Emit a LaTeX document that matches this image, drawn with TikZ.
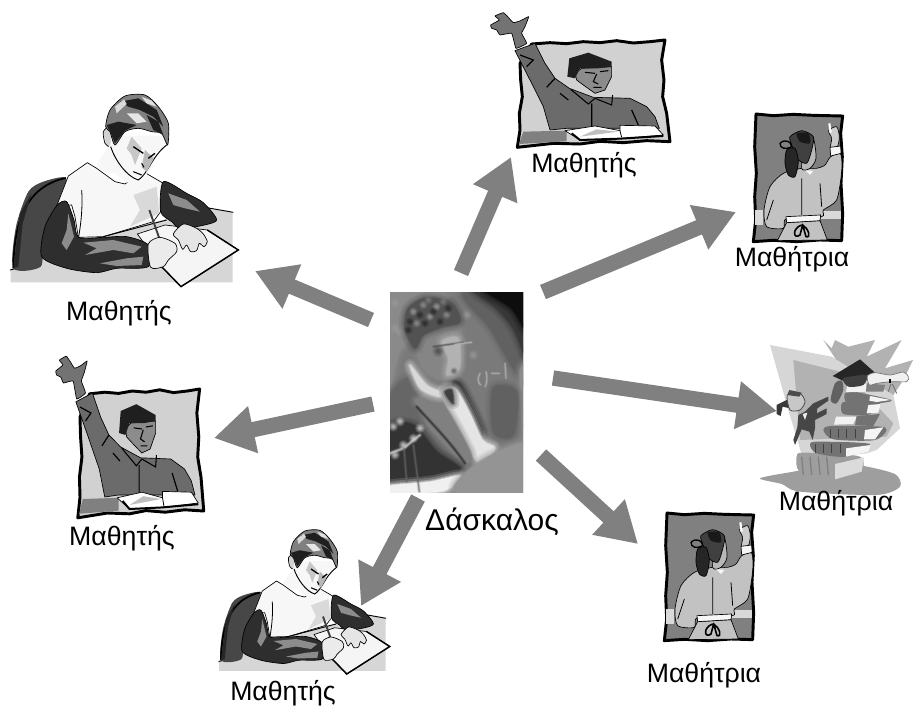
\documentclass[tikz,border=0pt]{standalone}
\usepackage{fontspec}
\setmainfont{Liberation Sans}
\usetikzlibrary{arrows.meta}
\definecolor{arrowgray}{gray}{0.5}
\newcommand{\blob}[2]{\path[#1] plot[smooth cycle,tension=.45] coordinates{#2};}
\newcommand{\poly}[2]{\path[#1] plot[sharp cycle] coordinates{#2};}
\newcommand{\soft}[2]{%
  \foreach \w/\o in {9/.15,6/.22,3/.35,1.2/.55}{\path[draw=#1,line width=\w pt,opacity=\o,line join=round] plot[smooth cycle,tension=.5] coordinates{#2};}%
  \path[fill=#1] plot[smooth cycle,tension=.5] coordinates{#2};}
\newcommand{\softdot}[3]{%
  \foreach \f/\o in {1.7/.14,1.35/.2,1/.3,.65/.45}{\fill[#1,opacity=\o] #2 circle ({#3*\f});}}
\newcommand{\softline}[3]{%
  \foreach \w/\o in {4.5/.14,3/.22,1.8/.35,.9/.5}{\draw[#1,line width=#2*\w pt,opacity=\o,line cap=round,line join=round] #3;}}
\tikzset{
  lbl/.style={inner sep=0pt,font=\fontsize{20}{24}\selectfont},
  biglbl/.style={inner sep=0pt,font=\fontsize{22.5}{26}\selectfont},
  flow/.style={draw=arrowgray,line width=11.5pt,-{Triangle[length=30pt,width=34pt,fill=arrowgray]}},
  ink/.style={draw=black,line width=.5pt,line join=round},
  thick ink/.style={draw=black,line width=2.2pt,line join=round}
}
% ---------- boy writing
\newcommand{\boyart}[3]{\begin{scope}[shift={(#1,#2)},scale=#3]
 \poly{fill=black!16}{(32,572)(300,470)(620,385)(698,397)(698,607)(32,607)}
 \draw[black,line width=.7pt] (620,383)--(700,397);
 \draw[black,line width=.7pt] (30,570)--(120,548);
 % chair
 \blob{fill=black!72}{(40,565)(48,440)(85,335)(130,305)(198,294)(175,370)(130,480)(122,560)}
 \draw[black,line width=1.3pt] (40,565) .. controls (42,440) and (70,320) .. (198,294);
 \poly{fill=black!85}{(40,565)(60,400)(95,340)(68,430)(55,560)}
 % torso
 \poly{fill=black!3,ink}{(205,288)(262,248)(290,265)(345,305)(375,312)(430,275)(490,310)(482,395)(460,425)(310,470)(235,472)(225,410)(215,375)(170,378)}
 \poly{fill=black!15}{(400,345)(470,320)(478,400)(390,440)(420,390)}
 \draw[black,line width=.6pt] (245,330) .. controls (248,370) and (245,420) .. (236,470);
 \draw[black,line width=.7pt] (310,470)--(500,420);
 % paper
 \poly{fill=black!4,ink}{(412,462)(495,435)(622,450)(715,510)(543,620)(483,558)}
 \draw[black,line width=1.1pt] (622,450)--(715,510)--(543,620)--(483,558);
 % pencil
 \draw[black!75,line width=1.4pt] (448,390)--(478,475);
 % left sleeve
 \blob{fill=black!82,ink}{(172,375)(200,365)(222,420)(236,472)(310,472)(380,470)(445,495)(445,560)(350,565)(290,578)(200,565)(125,530)(135,440)}
 \poly{fill=black!45}{(205,400)(222,470)(200,510)(185,490)(200,450)}
 \poly{fill=black!45}{(250,488)(340,480)(425,500)(400,520)(340,510)(255,525)(290,505)}
 \poly{fill=black!45}{(300,550)(380,535)(430,530)(425,555)(350,558)}
 % right sleeve
 \blob{fill=black!82,ink}{(490,305)(560,340)(610,368)(650,420)(600,438)(540,445)(515,425)(482,395)}
 \poly{fill=black!45}{(505,340)(560,360)(600,395)(555,385)(520,375)}
 % hands
 \blob{fill=black!10,ink}{(520,462)(550,432)(590,445)(610,462)(622,485)(612,500)(598,490)(590,512)(572,515)(560,495)(548,508)(535,480)}
 \blob{fill=black!8,ink}{(445,492)(480,472)(525,490)(530,515)(505,540)(490,560)(452,562)}
 % ear, neck, face
 \blob{fill=black!18,ink}{(310,155)(330,140)(338,180)(330,200)(315,190)}
 \blob{fill=black!3}{(290,255)(330,195)(345,170)(500,170)(500,195)(470,215)(450,270)(415,300)(380,308)(345,280)(315,275)}
 \draw[black,line width=.7pt] (332,200) .. controls (345,240) and (380,290) .. (415,300) .. controls (445,280) and (455,230) .. (500,195);
 \poly{fill=black!22}{(395,170)(425,205)(405,255)(395,225)(380,205)}
 \poly{fill=black!28}{(435,210)(462,235)(440,275)(425,262)}
 \draw[black,line width=1pt] (400,200)--(430,220) (445,235)--(465,220);
 \draw[black,line width=.8pt] (400,275)--(425,285) (425,250)--(432,262);
 % hair
 \blob{fill=black!50,ink}{(317,140)(330,90)(375,48)(435,45)(475,80)(505,130)(503,195)(485,160)(455,155)(415,145)(375,155)(345,195)(330,155)}
 \poly{fill=black!88}{(360,65)(415,55)(470,90)(490,140)(460,110)(420,90)(385,80)}
 \poly{fill=black!88}{(440,105)(475,125)(490,165)(460,150)}
 \poly{fill=black!88}{(320,135)(355,125)(410,135)(375,152)(345,190)(332,160)}
 \poly{fill=black!10}{(380,100)(415,100)(440,125)(410,130)}
 \poly{fill=black!15}{(345,80)(372,58)(380,72)(350,100)}
 \poly{fill=black!12}{(425,50)(455,62)(470,80)(440,70)}
\end{scope}}
% ---------- student with raised hand
\newcommand{\handart}[4]{\begin{scope}[shift={(#1,#2)},xscale=#3,yscale=#4]
 \poly{fill=black!18,thick ink}{(155,132)(210,128)(260,131)(310,125)(360,128)(410,122)(460,129)(510,125)(555,120)(545,180)(552,240)(548,290)(560,340)(570,425)(500,422)(430,428)(360,424)(300,432)(220,430)(112,442)(120,390)(118,340)(127,290)(122,240)(120,190)}
 \poly{fill=black!50}{(130,395)(260,392)(260,424)(117,432)}
 \poly{fill=black!58,ink}{(105,152)(165,130)(195,190)(225,235)(268,265)(340,292)(450,295)(500,320)(525,350)(538,385)(400,385)(260,385)(210,390)(190,320)(150,240)}
 \path[fill=black!55,ink] plot[smooth cycle,tension=.2] coordinates{(32,75)(58,60)(45,48)(70,38)(85,52)(100,68)(122,62)(146,50)(135,80)(125,100)(140,130)(108,145)(95,100)(60,105)(50,90)(35,85)};
 \poly{fill=black!45,ink}{(285,220)(305,205)(395,200)(395,230)(375,270)(345,280)(310,255)(290,240)}
 \poly{fill=black!88}{(268,175)(325,158)(395,185)(395,200)(355,205)(300,205)(285,235)(262,230)}
 \draw[black,line width=.8pt] (315,217)--(345,220) (360,215)--(385,212) (350,222)--(340,245)--(355,252) (340,262)--(365,262);
 \draw[black,line width=.8pt] (272,268)--(325,312)--(345,295)--(395,315)--(398,285);
 \draw[black,line width=.9pt] (120,165)--(160,180)--(140,200) (225,235)--(200,262) (240,280)--(265,300) (335,310)--(335,380) (455,330)--(475,375);
 \poly{fill=white,ink}{(255,392)(345,378)(420,392)(420,376)(525,378)(550,405)(420,416)(300,420)}
 \poly{fill=black!25}{(350,388)(415,395)(300,410)}
 \draw[black,line width=.6pt] (420,392)--(425,412);
 \draw[black,line width=1.5pt] (275,400)--(300,420)--(420,416)--(550,408);
\end{scope}}
% ---------- girl at the board
\newcommand{\girlart}[3]{\begin{scope}[shift={(#1,#2)},xscale=#3,yscale=.3333]
 \poly{fill=black!50,thick ink}{(78,42)(130,47)(190,43)(250,46)(338,48)(332,100)(337,170)(333,250)(338,340)(335,422)(270,420)(200,425)(130,421)(70,425)(77,360)(74,290)(79,220)(74,140)}
 \poly{fill=black!15}{(272,332)(334,332)(334,356)(272,356)}
 \poly{fill=black!15}{(76,330)(100,330)(100,375)(76,375)}
 \blob{fill=black!24,ink}{(215,205)(260,205)(285,195)(302,170)(332,162)(335,215)(320,300)(280,330)(275,350)(170,355)(160,385)(110,380)(102,330)(120,260)(160,220)}
 \poly{fill=black!24,ink}{(170,368)(270,362)(292,420)(142,422)}
 \poly{fill=black!3,ink}{(168,350)(272,345)(270,362)(170,368)}
 \draw[black,line width=1.2pt] (215,375) .. controls (185,385) and (190,420) .. (210,405) -- (218,375) .. controls (235,385) and (245,415) .. (228,410) -- (218,375);
 \poly{fill=black!3}{(225,210)(250,213)(240,225)}
 \draw[black,line width=.6pt] (215,235)--(215,345) (130,300)--(110,360) (270,250)--(275,320);
 \blob{fill=black!28,ink}{(225,120)(250,115)(258,175)(240,205)(215,205)}
 \blob{fill=black!75,ink}{(180,110)(215,92)(250,110)(245,150)(230,190)(200,175)(185,135)}
 \blob{fill=black!85,ink}{(170,150)(195,145)(205,185)(195,230)(175,225)(165,190)}
 \draw[black,line width=1pt] (150,130) .. controls (165,115) and (185,125) .. (185,140) .. controls (165,150) and (150,145) .. (150,130);
 \blob{fill=black!90}{(200,100)(235,100)(240,130)(210,125)}
 \blob{fill=black!20,ink}{(296,92)(320,80)(328,110)(322,140)(302,142)(305,115)}
 \draw[white,line width=1.6pt] (298,70)--(302,98);
 \poly{fill=black!3,ink}{(300,142)(332,138)(333,160)(302,168)}
\end{scope}}
\begin{document}
\begin{tikzpicture}[x=0.75pt,y=-0.75pt]
\useasboundingbox (0,0) rectangle (913,711);
\fill[white] (0,0) rectangle (913,711);
% --- pictures
\boyart{0}{80}{.3333}
\boyart{211}{519}{.25}
\handart{480}{0}{.3333}{.3333}
\handart{47}{341}{.275}{.4}
\girlart{730}{100}{.3333}
\girlart{641}{499}{.3333}
% --- teacher photograph
\begin{scope}
\clip (390,292) rectangle (523,492);
\begin{scope}[shift={(380,285)},scale=.3333]
 \fill[black!52] (0,0) rectangle (450,640);
 \soft{black!46}{(30,20)(200,30)(150,100)(60,200)(30,300)}
 \soft{black!62}{(250,20)(450,10)(450,300)(400,250)(330,130)}
 \soft{black!78}{(280,10)(450,10)(450,230)(400,130)(350,70)}
 \soft{black!95}{(310,10)(450,10)(450,150)(395,70)}
 \soft{black!45}{(420,260)(450,250)(450,500)(425,400)}
 \soft{black!62}{(340,310)(410,320)(400,450)(340,440)}
 \softline{black!28}{.5}{(300,265) .. controls (290,280) and (295,295) .. (302,300) (318,260) .. controls (322,275) and (322,290) .. (316,305) (335,265)--(358,265) (375,235)--(378,280)}
 \foreach \p in {(45,55),(60,140),(45,130),(260,90),(280,210)} {\softdot{black!40}{\p}{10}}
 % jacket
 \soft{black!60}{(30,340)(95,275)(130,320)(210,360)(310,470)(270,540)(240,560)(30,590)}
 \soft{black!82}{(218,295)(245,305)(305,430)(298,450)(270,385)}
 \soft{black!10}{(185,330)(225,310)(270,385)(308,465)(345,490)(300,535)(260,480)}
 \soft{black!50}{(105,345)(170,330)(270,500)(250,530)(150,430)(125,375)}
 \softline{black!85}{.7}{(110,365) .. controls (160,420) and (210,470) .. (255,535)}
 \soft{black!15}{(90,240)(140,300)(190,325)(175,335)(120,310)}
 \soft{black!75}{(195,320)(215,315)(220,355)(205,340)}
 % face
 \soft{black!48}{(105,160)(160,130)(235,120)(248,200)(235,265)(190,285)(140,265)(115,220)}
 \soft{black!30}{(185,170)(235,160)(238,250)(200,270)(205,220)}
 \softdot{black!72}{(175,198)}{11}
 \softdot{black!65}{(222,258)}{7}
 \softline{black!70}{.5}{(160,185) -- (250,172)}
 \softline{black!25}{.5}{(225,178)--(275,172)}
 % hair
 \soft{black!68}{(75,130)(85,70)(140,38)(215,55)(240,110)(190,125)(130,150)(105,190)}
 \foreach \p/\g in {(100,80)/38,(130,60)/42,(170,65)/36,(200,90)/42,(150,95)/38,(110,115)/42,(180,110)/85,(135,115)/85,(90,110)/85,(120,90)/85,(160,80)/85,(205,70)/85,(85,135)/85,(145,45)/50,(190,50)/50}
   {\softdot{black!\g}{\p}{8}}
 % lower left dark
 \soft{black!80}{(30,430)(100,420)(170,500)(240,550)(200,580)(30,590)}
 \foreach \p in {(45,510),(70,480),(100,460),(120,430),(60,410),(40,425)} {\softdot{black!15}{\p}{9}}
 \softline{black!15}{.8}{(30,505)--(70,490)--(120,450)}
 \soft{black!6}{(30,602)(150,590)(240,572)(190,618)(30,625)}
 % bottom right blur
 \soft{black!42}{(225,620)(300,530)(450,475)(450,640)}
 \softline{black!60}{.6}{(72,490)--(80,590) (100,480)--(118,620)}
\end{scope}
\end{scope}
% --- books
\begin{scope}[shift={(760,340)},scale=.3333]
 \poly{fill=black!30}{(190,0)(215,25)(225,0)(265,20)(345,0)(320,50)(425,0)(375,85)(459,60)(430,120)(400,165)(300,170)}
 \poly{fill=black!16}{(30,15)(215,50)(400,165)(420,265)(350,330)(320,340)(130,360)(85,210)}
 \poly{fill=black!30}{(100,60)(260,100)(400,250)(380,290)(120,300)}
 \blob{fill=black!38}{(0,415)(100,395)(250,370)(400,400)(420,440)(350,465)(120,455)(65,432)}
 % stack
 \blob{fill=black!38}{(110,350)(130,338)(300,350)(298,408)(225,420)(140,410)(112,385)}
 \poly{fill=black!14}{(225,372)(312,352)(305,395)(225,418)}
 \foreach \x in {125,150,175,200}{\draw[black!50,line width=1pt] (\x,350)--(\x+5,405);}
 \blob{fill=black!55}{(150,315)(170,305)(330,312)(258,350)(170,340)}
 \poly{fill=black!4}{(258,325)(332,315)(325,335)(258,350)}
 \blob{fill=black!55}{(190,270)(215,258)(375,262)(345,300)(220,298)}
 \poly{fill=black!4}{(315,270)(370,262)(345,298)(312,298)}
 \poly{fill=black!5}{(228,230)(290,230)(280,252)(222,254)}
 \poly{fill=black!55}{(290,228)(360,222)(340,258)(285,256)}
 \blob{fill=black!55}{(245,190)(265,185)(360,190)(325,224)(250,222)}
 \poly{fill=black!4}{(325,195)(362,192)(355,218)(320,220)}
 \blob{fill=black!55}{(255,160)(280,155)(395,180)(350,190)(262,188)}
 \poly{fill=black!4}{(330,168)(392,180)(350,186)(328,182)}
 \poly{fill=black!5}{(262,135)(320,132)(318,155)(258,157)}
 \poly{fill=black!50}{(320,130)(375,135)(370,155)(318,155)}
 \foreach \x in {165,190,215,240}{\draw[black!75,line width=.7pt] (\x,312)--(\x,340);\draw[black!75,line width=.7pt] (\x+45,268)--(\x+45,295);}
 % cap
 \poly{fill=black!85}{(218,108)(300,58)(345,98)(262,128)}
 \blob{fill=black!75}{(250,115)(320,105)(310,135)(265,140)}
 \blob{fill=black!62}{(225,130)(245,122)(250,150)(230,190)(212,180)}
 % diploma
 \blob{fill=black!6,draw=black!55,line width=.5pt}{(322,108)(345,98)(390,105)(430,96)(445,110)(440,125)(395,125)(350,130)(328,135)}
 \draw[black,line width=1.2pt] (390,118)--(390,130);
 \draw[black!55,line width=.7pt] (393,132)--(385,155) (397,132)--(410,160);
 % runner
 \poly{fill=black!78}{(50,195)(80,180)(90,205)(68,200)(62,228)(50,222)}
 \blob{fill=black!22,draw=black!70,line width=.6pt}{(82,165)(120,160)(135,185)(120,210)(90,210)}
 \poly{fill=black!70}{(82,165)(88,150)(125,158)(118,170)}
 \poly{fill=black!72}{(115,225)(135,215)(160,190)(205,170)(205,182)(172,205)(170,220)(200,205)(200,222)(165,240)(165,265)(158,300)(148,275)(125,268)(105,315)(100,300)(112,262)}
 \poly{fill=black!5}{(128,222)(142,218)(135,240)}
\end{scope}
% --- labels
\node[lbl] (studentA) at (119,313) {Μαθητής};
\node[lbl] (studentB) at (584,165) {Μαθητής};
\node[lbl] (studentC) at (122,538) {Μαθητής};
\node[lbl] (studentD) at (283,693) {Μαθητής};
\node[lbl] (pupilA) at (792,259) {Μαθήτρια};
\node[lbl] (pupilB) at (836,503) {Μαθήτρια};
\node[lbl] (pupilC) at (704,675) {Μαθήτρια};
\node[biglbl] (teacher) at (492,522) {Δάσκαλος};
% --- connectors
\coordinate (a1) at (371,320); \coordinate (a2) at (255,271);
\coordinate (b1) at (373,404); \coordinate (b2) at (214,438);
\coordinate (c1) at (461,273); \coordinate (c2) at (511,157);
\coordinate (d1) at (543,292); \coordinate (d2) at (736,212);
\coordinate (e1) at (553,378); \coordinate (e2) at (777,411);
\coordinate (f1) at (541,455); \coordinate (f2) at (638,544);
\coordinate (g1) at (418,498); \coordinate (g2) at (361,606);
\foreach \s/\t in {a1/a2,b1/b2,c1/c2,d1/d2,e1/e2,f1/f2,g1/g2}{\draw[flow] (\s) -- (\t);}
\end{tikzpicture}
\end{document}
